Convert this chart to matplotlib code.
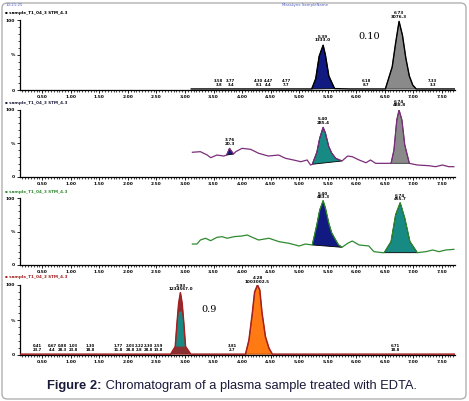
import numpy as np
import matplotlib
matplotlib.use('Agg')
import matplotlib.pyplot as plt
from matplotlib.patches import FancyBboxPatch
from matplotlib.ticker import MultipleLocator

# ---- data (time in min, intensity in %) ----
p1_t = [3.11, 3.6, 4.3, 4.8, 5.22, 5.29, 5.35, 5.42, 5.46, 5.52, 5.62, 5.9, 6.51,
        6.63, 6.69, 6.75, 6.81, 6.87, 6.93, 6.99, 7.05, 7.4, 7.73]
p1_i = [1.5, 1.5, 1.5, 1.5, 1.5, 16, 48, 64, 50, 20, 2, 1.5, 1.5,
        33, 67, 98, 78, 45, 20, 7, 1.5, 1.5, 1.5]

p2_t = [3.13, 3.27, 3.39, 3.45, 3.56, 3.68, 3.73, 3.78, 3.85, 3.89, 4.00, 4.15, 4.29,
        4.46, 4.64, 4.76, 4.90, 5.03, 5.14, 5.20, 5.23, 5.31, 5.36, 5.42, 5.46, 5.52,
        5.57, 5.64, 5.75, 5.85, 5.93, 6.05, 6.17, 6.25, 6.34, 6.52, 6.61, 6.66, 6.71,
        6.75, 6.80, 6.85, 6.93, 7.07, 7.27, 7.39, 7.51, 7.62, 7.71]
p2_i = [36.9, 37.8, 32.8, 28.8, 32.8, 31.3, 32.8, 42.8, 34.3, 37.8, 42.8, 41.3, 35.4,
        31.3, 32.8, 27.9, 25.4, 22.8, 25.4, 17.9, 19.0, 37.0, 58.0, 74.2, 65.7, 45.2,
        35.8, 27.9, 23.9, 31.3, 30.3, 25.4, 21.3, 25.4, 20.4, 20.4, 20.4, 40.0, 85.0,
        100.0, 85.0, 48.0, 20.4, 17.9, 16.9, 15.4, 17.9, 15.4, 15.4]

p3_t = [3.13, 3.21, 3.27, 3.36, 3.45, 3.56, 3.65, 3.74, 3.86, 4.00, 4.09, 4.18, 4.29,
        4.47, 4.65, 4.82, 5.00, 5.11, 5.23, 5.31, 5.36, 5.42, 5.46, 5.52, 5.57, 5.64,
        5.69, 5.75, 5.85, 5.93, 6.05, 6.22, 6.31, 6.46, 6.49, 6.61, 6.69, 6.77, 6.85,
        6.94, 7.07, 7.22, 7.34, 7.45, 7.57, 7.71]
p3_i = [31.3, 31.3, 37.3, 39.9, 36.3, 41.3, 42.3, 39.9, 42.3, 43.3, 44.8, 41.3, 37.3,
        39.9, 34.8, 32.4, 28.4, 31.3, 29.9, 60.0, 82.0, 96.0, 85.0, 62.2, 48.0, 37.3,
        30.0, 26.4, 32.4, 35.8, 29.9, 28.4, 19.9, 18.4, 18.4, 35.0, 75.0, 93.0, 70.0,
        35.0, 18.4, 19.9, 22.4, 19.9, 22.4, 23.4]

p4_t = [0.11, 1.0, 2.0, 2.75, 2.83, 2.86, 2.89, 2.92, 2.95, 2.98, 3.01, 3.10, 3.6,
        4.06, 4.12, 4.18, 4.22, 4.27, 4.31, 4.35, 4.41, 4.47, 4.53, 5.5, 6.5, 7.73]
p4_i = [1.2, 1.2, 1.2, 1.2, 12, 45, 74, 89, 74, 45, 12, 1.2, 1.2,
        1.2, 21, 60, 90, 100, 93, 60, 26, 10, 1.2, 1.2, 1.2, 1.2]

# peak labels: (time, height, retention time, area)
p1_peaks = [(5.42, 64, '5.39', '1333.0'), (6.75, 98, '6.73', '3076.3')]
p2_peaks = [(3.78, 42.8, '3.76', '20.3'), (5.42, 74.2, '5.40', '285.4'),
            (6.75, 100, '6.74', '488.8')]
p3_peaks = [(5.42, 96, '5.40', '483.3'), (6.77, 93, '6.74', '455.7')]
p4_peaks = [(2.92, 89, '2.93', '1234567.0'), (4.27, 100, '4.28', '1003002.5')]

# small baseline labels
p1_small = [(3.59, '3.58', '3.8'), (3.80, '3.77', '3.4'), (4.29, '4.30', '8.1'),
            (4.46, '4.47', '4.4'), (4.78, '4.77', '7.7'), (6.17, '6.18', '8.7'),
            (7.34, '7.33', '3.3')]
p4_small = [(0.41, '0.41', '23.7'), (0.68, '0.67', '4.4'), (0.86, '0.88', '28.3'),
            (1.04, '1.03', '23.8'), (1.34, '1.30', '18.8'), (1.83, '1.77', '11.8'),
            (2.04, '2.03', '28.8'), (2.20, '2.22', '2.8'), (2.36, '2.30', '28.8'),
            (2.53, '2.59', '13.8'), (3.83, '3.81', '2.7'), (6.69, '6.71', '18.8')]

panel_title = 'sample_T1_04_3 STM_4.3'

navy = '#101a80'
grey = '#8a8a8a'
teal = '#178a84'
purple = '#7b2d7b'
green = '#2f8a2f'
red = '#a52020'
orange = '#ff7a12'

W, H = 469, 401
fig = plt.figure(figsize=(W / 100, H / 100), dpi=100)

def px_axes(top, bottom):
    return fig.add_axes([20 / W, 1 - bottom / H, 435 / W, (bottom - top) / H])

def style(ax):
    ax.set_xlim(0.11, 7.73)
    ax.set_ylim(0, 100)
    for s in ['top', 'right']:
        ax.spines[s].set_visible(False)
    ax.spines['left'].set_linewidth(0.9)
    ax.spines['bottom'].set_linewidth(0.9)
    ax.xaxis.set_minor_locator(MultipleLocator(0.05))
    ax.set_xticks(np.arange(0.5, 7.51, 0.5))
    ax.set_xticklabels(['%.2f' % v for v in np.arange(0.5, 7.51, 0.5)])
    ax.set_yticks([0, 50, 100])
    ax.set_yticklabels(['0', '%', '100'])
    ax.yaxis.set_minor_locator(MultipleLocator(10))
    ax.tick_params(axis='both', which='major', labelsize=3.2, length=2.5, width=0.6, pad=1)
    ax.tick_params(axis='both', which='minor', length=1.5, width=0.5)
    for lab in ax.get_xticklabels() + ax.get_yticklabels():
        lab.set_fontweight('bold')
    ax.patch.set_alpha(0)

def peak_fill(ax, t, i, t0, t1, color, edge='black', clip=None):
    t = np.asarray(t)
    i = np.asarray(i, dtype=float)
    m = (t >= t0) & (t <= t1)
    yy = i[m] if clip is None else np.minimum(i[m], clip)
    ax.fill(t[m], yy, color=color, edgecolor=edge, linewidth=0.6, zorder=2)

def peak_labels(ax, peaks, dy=2):
    for t, y, a, b in peaks:
        ax.annotate(a + '\n' + b, xy=(t, y), xytext=(0, dy), textcoords='offset points',
                    ha='center', va='bottom', fontsize=3, fontweight='bold',
                    linespacing=0.9, annotation_clip=False)

def small_labels(ax, labels, y=4):
    for t, a, b in labels:
        ax.text(t, y, a + '\n' + b, ha='center', va='bottom', fontsize=2.7,
                fontweight='bold', linespacing=1.0)

# panel 1
ax1 = px_axes(20, 90)
style(ax1)
peak_fill(ax1, p1_t, p1_i, 5.21, 5.63, navy)
peak_fill(ax1, p1_t, p1_i, 6.50, 7.06, grey, edge='#333333')
ax1.plot(p1_t, p1_i, color='black', lw=1.0, zorder=3)
peak_labels(ax1, p1_peaks)
small_labels(ax1, p1_small)
ax1.text(6.22, 76, '0.10', fontsize=7, family='DejaVu Serif', ha='center', va='center')

# panel 2
ax2 = px_axes(110, 177)
style(ax2)
peak_fill(ax2, p2_t, p2_i, 3.72, 3.86, navy)
peak_fill(ax2, p2_t, p2_i, 5.22, 5.76, teal)
peak_fill(ax2, p2_t, p2_i, 6.60, 6.94, grey, edge='#333333')
ax2.plot(p2_t, p2_i, color=purple, lw=0.9, zorder=3)
peak_labels(ax2, p2_peaks)

# panel 3
ax3 = px_axes(198, 265)
style(ax3)
peak_fill(ax3, p3_t, p3_i, 5.22, 5.76, navy)
peak_fill(ax3, p3_t, p3_i, 6.48, 7.08, teal)
ax3.plot(p3_t, p3_i, color=green, lw=0.9, zorder=3)
peak_labels(ax3, p3_peaks, dy=1)

# panel 4
ax4 = px_axes(285, 355)
style(ax4)
peak_fill(ax4, p4_t, p4_i, 2.74, 3.11, '#8b3030', edge=red)
peak_fill(ax4, p4_t, p4_i, 2.80, 3.04, teal, edge='none', clip=62)
peak_fill(ax4, p4_t, p4_i, 4.05, 4.54, orange, edge='#b04000')
ax4.plot(p4_t, p4_i, color=red, lw=1.1, zorder=3)
peak_labels(ax4, p4_peaks, dy=1)
small_labels(ax4, p4_small)
ax4.text(3.42, 65, '0.9', fontsize=7, family='DejaVu Serif', ha='center', va='center')

# panel titles
for y, c in [(13, 'black'), (103, '#202040'), (192, green), (277, red)]:
    fig.text(5 / W, 1 - y / H, '\u25aa ' + panel_title, fontsize=3, fontweight='bold',
             color=c, va='center', ha='left')
fig.text(6 / W, 1 - 5 / H, '10:21:25', fontsize=2.8, color='#5060c0', va='center')
fig.text(305 / W, 1 - 5 / H, 'MassLynx SampleName', fontsize=2.8, color='#5060c0',
         va='center', ha='center')

# caption
cap = fig.text(47 / W, 1 - 386 / H, 'Figure 2:', fontsize=9.3, fontweight='bold',
               family='Liberation Sans', color='#1a1a3a', va='center', ha='left')
ax4.annotate(' Chromatogram of a plasma sample treated with EDTA.', xy=(1, 0.5),
             xycoords=cap, va='center', ha='left', fontsize=9.3,
             family='Liberation Sans', color='#1a1a3a')

# rounded border
border = FancyBboxPatch((2 / W, 2 / H), 1 - 5 / W, 1 - 5 / H,
                        boxstyle='round,pad=0,rounding_size=0.012',
                        transform=fig.transFigure, fill=False,
                        edgecolor='#b0b0b0', linewidth=1.0)
fig.patches.append(border)

fig.savefig('out.png', dpi=100)
